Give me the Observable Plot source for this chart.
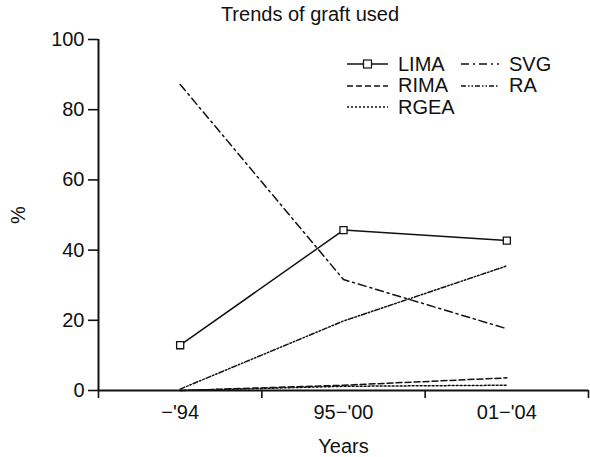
<!DOCTYPE html>
<html><head><meta charset="utf-8">
<script src="https://cdn.jsdelivr.net/npm/d3@7"></script>
<script src="https://cdn.jsdelivr.net/npm/@observablehq/plot@0.6"></script>
<style>
body{margin:0;background:#fff;font-family:Arial,"Liberation Sans",sans-serif;color:#111;}
#wrap{position:relative;width:590px;height:457px;overflow:hidden;}
#title{position:absolute;left:0;width:620px;top:3px;text-align:center;font-size:20px;}
#chart{position:absolute;left:0;top:0;}
.leg{position:absolute;font-size:20px;display:flex;align-items:center;height:22px;}
.leg svg{margin-right:10px;}
</style></head><body>
<div id="wrap">
<div id="chart"></div>
<div id="title">Trends of graft used</div>
<div id="legend"></div>
</div>
<script>
const categories = ["\u2212'94", "95\u2212'00", "01\u2212'04"];
const LIMA = [12.9, 45.7, 42.7];
const SVG_ = [87.2, 31.6, 17.6];
const RIMA = [0, 1.5, 3.6];
const RA   = [0.4, 19.8, 35.5];
const RGEA = [0, 1.2, 1.5];
const yTicks = [0, 20, 40, 60, 80, 100];

const seriesList = [
  {name: "LIMA", values: LIMA},
  {name: "SVG", values: SVG_},
  {name: "RIMA", values: RIMA},
  {name: "RA", values: RA},
  {name: "RGEA", values: RGEA}
];
const dashes = {LIMA: null, SVG: "8,4,2,4", RIMA: "6,3", RA: "5,2,1.5,2,1.5,2", RGEA: "2,2"};

const rows = seriesList.flatMap(s => s.values.map((v, i) => ({series: s.name, idx: i + 0.5, value: v})));

const lineMarks = seriesList.map(s =>
  Plot.line(rows.filter(r => r.series === s.name), {
    x: "idx", y: "value", stroke: "#111", strokeWidth: 1.5,
    strokeDasharray: dashes[s.name] || undefined
  })
);

const chart = Plot.plot({
  width: 590, height: 457,
  marginLeft: 98, marginRight: 2, marginTop: 39, marginBottom: 67,
  style: {fontFamily: "Arial, 'Liberation Sans', sans-serif", fontSize: "20px", color: "#111", background: "#fff"},
  x: {domain: [0, 3], axis: null},
  y: {domain: [0, 100], axis: null},
  marks: [
    Plot.axisY({ticks: yTicks, tickSize: 10, tickPadding: 4, fontSize: 20, strokeWidth: 1.6,
      label: "%", labelAnchor: "center", labelArrow: "none", labelOffset: 88}),
    Plot.axisX({ticks: [0, 1, 2, 3], tickSize: 8, tickFormat: () => "", strokeWidth: 1.6, label: null}),
    Plot.axisX({ticks: [0.5, 1.5, 2.5], tickSize: 0, tickPadding: 14, fontSize: 20,
      tickFormat: d => categories[Math.floor(d)], label: "Years", labelAnchor: "center", labelArrow: "none", labelOffset: 62}),
    Plot.ruleX([0], {y1: 0, y2: 100, stroke: "#111", strokeWidth: 2}),
    Plot.ruleY([0], {stroke: "#111", strokeWidth: 2}),
    ...lineMarks,
    Plot.dot(rows.filter(r => r.series === "LIMA"), {x: "idx", y: "value", symbol: "square", r: 4, fill: "#fff", stroke: "#111", strokeWidth: 1.3})
  ]
});
document.getElementById("chart").appendChild(chart);

// legend
const legPos = {
  LIMA: [347, 53], RIMA: [347, 74.5], RGEA: [347, 96],
  SVG: [461, 53], RA: [461, 74.5]
};
const legW = {LIMA: 41, RIMA: 41, RGEA: 41, SVG: 38, RA: 38};
const leg = document.getElementById("legend");
seriesList.forEach(s => {
  const [lx, ly] = legPos[s.name];
  const w = legW[s.name];
  const d = document.createElement("div");
  d.className = "leg";
  d.style.left = lx + "px";
  d.style.top = ly + "px";
  const dash = dashes[s.name];
  const marker = s.name === "LIMA" ? `<rect x="${w/2-4}" y="7" width="8" height="8" fill="#fff" stroke="#111" stroke-width="1.2"/>` : "";
  d.innerHTML = `<svg width="${w}" height="22"><line x1="0" x2="${w}" y1="11" y2="11" stroke="#111" stroke-width="1.4" ${dash ? `stroke-dasharray="${dash}"` : ""}/>${marker}</svg><span>${s.name}</span>`;
  leg.appendChild(d);
});
</script>
</body></html>
